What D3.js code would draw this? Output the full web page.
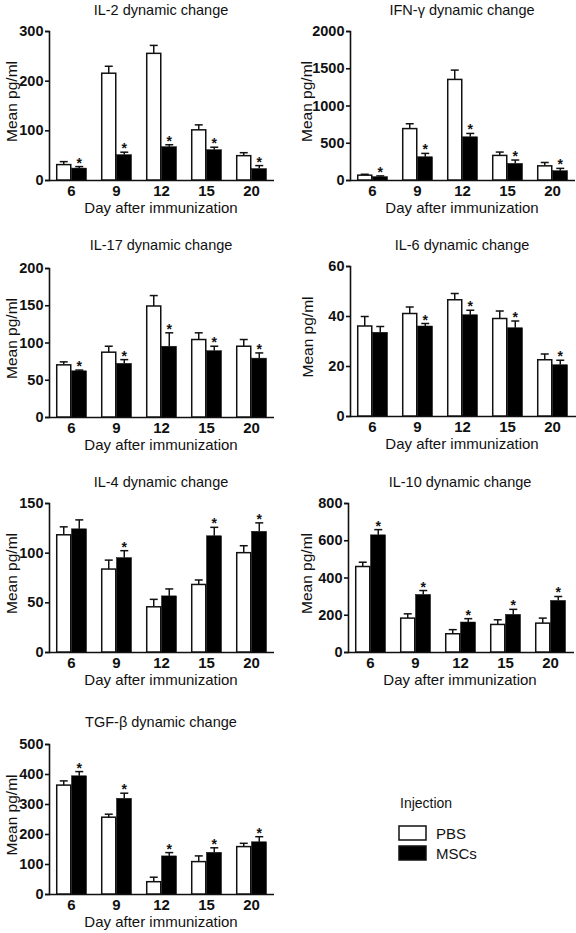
<!DOCTYPE html>
<html><head><meta charset="utf-8">
<script src="https://cdn.jsdelivr.net/npm/d3@7"></script>
<style>
html,body{margin:0;padding:0;background:#fff;}
svg text{font-family:"Liberation Sans",Arial,Helvetica,sans-serif;fill:#111;}
</style></head>
<body>
<svg id="c" width="576" height="933"></svg>
<script>
const days = ["6","9","12","15","20"];

const il2Pbs = [31,215,255,101,49],   il2PbsSd = [6,14,16,10,6];
const il2Msc = [24,51,67,61,23],      il2MscSd = [3,5,4,5,6];
const il2Stars = [1,1,1,1,1];
const il2Ticks = [0,100,200,300];

const ifnPbs = [65,690,1350,330,190], ifnPbsSd = [12,65,125,45,45];
const ifnMsc = [45,312,580,223,125],  ifnMscSd = [10,45,45,45,31];
const ifnStars = [1,1,1,1,1];
const ifnTicks = [0,500,1000,1500,2000];

const il17Pbs = [70,87,149,104,95],   il17PbsSd = [4,8,14,9,9];
const il17Msc = [62,72,95,89,79],     il17MscSd = [1,5,18,6,7];
const il17Stars = [1,1,1,1,1];
const il17Ticks = [0,50,100,150,200];

const il6Pbs = [36,41,46.5,39,22.5],  il6PbsSd = [3.8,2.6,2.5,3,2.3];
const il6Msc = [33.5,36,40.5,35.3,20.5], il6MscSd = [2.3,1,1.8,2.7,1.8];
const il6Stars = [0,1,1,1,1];
const il6Ticks = [0,20,40,60];

const il4Pbs = [118,83.5,45.5,68,100], il4PbsSd = [8,9,7.5,4.5,7];
const il4Msc = [124,95,56.5,117,121.5], il4MscSd = [9,7,7,8.5,8.5];
const il4Stars = [0,1,0,1,1];
const il4Ticks = [0,50,100,150];

const il10Pbs = [459,182,98,148,155], il10PbsSd = [23,23,22,25,27];
const il10Msc = [629,309,161,202,277], il10MscSd = [28,21,18,27,21];
const il10Stars = [1,1,1,1,1];
const il10Ticks = [0,200,400,600,800];

const tgfPbs = [363,256,41,108,158],  tgfPbsSd = [14,10,15,19,11];
const tgfMsc = [394,319,127,139,174], tgfMscSd = [14,17,11,15,17];
const tgfStars = [1,1,1,1,1];
const tgfTicks = [0,100,200,300,400,500];

const groups = ["PBS","MSCs"];
const legendTitle = "Injection";
const xLabel = "Day after immunization";
const yLabel = "Mean pg/ml";

const panels = [
  {title:"IL-2 dynamic change", pbs:il2Pbs, pbsSd:il2PbsSd, msc:il2Msc, mscSd:il2MscSd, stars:il2Stars, ticks:il2Ticks,
   ax:49, xEnd:274, yTop:31, y0:180, tY:15, yl:17},
  {title:"IFN-\u03b3 dynamic change", pbs:ifnPbs, pbsSd:ifnPbsSd, msc:ifnMsc, mscSd:ifnMscSd, stars:ifnStars, ticks:ifnTicks,
   ax:350, xEnd:575, yTop:31, y0:180, tY:15, yl:312},
  {title:"IL-17 dynamic change", pbs:il17Pbs, pbsSd:il17PbsSd, msc:il17Msc, mscSd:il17MscSd, stars:il17Stars, ticks:il17Ticks,
   ax:49, xEnd:274, yTop:268, y0:417, tY:250, yl:17},
  {title:"IL-6 dynamic change", pbs:il6Pbs, pbsSd:il6PbsSd, msc:il6Msc, mscSd:il6MscSd, stars:il6Stars, ticks:il6Ticks,
   ax:350, xEnd:576, yTop:266, y0:416, tY:250, yl:313},
  {title:"IL-4 dynamic change", pbs:il4Pbs, pbsSd:il4PbsSd, msc:il4Msc, mscSd:il4MscSd, stars:il4Stars, ticks:il4Ticks,
   ax:49, xEnd:274, yTop:503, y0:652, tY:487, yl:17},
  {title:"IL-10 dynamic change", pbs:il10Pbs, pbsSd:il10PbsSd, msc:il10Msc, mscSd:il10MscSd, stars:il10Stars, ticks:il10Ticks,
   ax:348, xEnd:574, yTop:503, y0:652, tY:487, yl:312},
  {title:"TGF-\u03b2 dynamic change", pbs:tgfPbs, pbsSd:tgfPbsSd, msc:tgfMsc, mscSd:tgfMscSd, stars:tgfStars, ticks:tgfTicks,
   ax:49, xEnd:274, yTop:744, y0:894, tY:727, yl:17}
];

const svg = d3.select("#c");
const fam = '"Liberation Sans",Arial,Helvetica,sans-serif';

panels.forEach(p => {
  const g = svg.append("g");
  const x = d3.scaleBand().domain(days).range([p.ax, p.ax + 225]).paddingInner(0.31).paddingOuter(0.155);
  const sub = d3.scaleBand().domain(groups).range([0, x.bandwidth()]);
  const y = d3.scaleLinear().domain([0, d3.max(p.ticks)]).range([p.y0, p.yTop]);

  g.append("text").attr("x", p.ax + 112).attr("y", p.tY).attr("text-anchor","middle")
    .style("font-size","14.5px").text(p.title);

  const ya = g.append("g").attr("transform", `translate(${p.ax},0)`)
    .call(d3.axisLeft(y).tickValues(p.ticks).tickSize(4).tickPadding(1.5).tickFormat(d3.format("d")));
  ya.select(".domain").attr("stroke","#111").attr("stroke-width",1.6);
  ya.selectAll(".tick line").attr("stroke","#111").attr("stroke-width",1.6);
  ya.selectAll(".tick text").style("font-size","14.5px").style("font-weight","bold").style("font-family",fam).attr("fill","#111");

  const xa = g.append("g").attr("transform", `translate(0,${p.y0})`)
    .call(d3.axisBottom(x).tickSize(0).tickPadding(5));
  xa.select(".domain").attr("d", `M${p.ax},0.5H${p.xEnd}`).attr("stroke","#111").attr("stroke-width",1.6);
  xa.selectAll(".tick text").style("font-size","15px").style("font-weight","bold").style("font-family",fam).attr("fill","#111");

  g.append("text").attr("x", p.ax + 112).attr("y", p.y0 + 33).attr("text-anchor","middle")
    .style("font-size","15px").text(xLabel);
  g.append("text").attr("transform", `translate(${p.yl},${(p.y0 + p.yTop)/2 - 4}) rotate(-90)`)
    .attr("text-anchor","middle").style("font-size","15.5px").text(yLabel);

  const rows = days.map((d,i) => [
    {day:d, grp:"PBS", v:p.pbs[i], sd:p.pbsSd[i], star:0},
    {day:d, grp:"MSCs", v:p.msc[i], sd:p.mscSd[i], star:p.stars[i]}
  ]).flat();

  const bg = g.append("g");
  bg.selectAll("line.err").data(rows).join("line").attr("class","err")
    .attr("x1", d => x(d.day) + sub(d.grp) + sub.bandwidth()/2)
    .attr("x2", d => x(d.day) + sub(d.grp) + sub.bandwidth()/2)
    .attr("y1", d => y(d.v)).attr("y2", d => y(d.v + d.sd))
    .attr("stroke","#111").attr("stroke-width",1.5);
  bg.selectAll("line.cap").data(rows).join("line").attr("class","cap")
    .attr("x1", d => x(d.day) + sub(d.grp) + sub.bandwidth()/2 - 4)
    .attr("x2", d => x(d.day) + sub(d.grp) + sub.bandwidth()/2 + 4)
    .attr("y1", d => y(d.v + d.sd)).attr("y2", d => y(d.v + d.sd))
    .attr("stroke","#111").attr("stroke-width",1.5);
  bg.selectAll("rect").data(rows).join("rect")
    .attr("x", d => x(d.day) + sub(d.grp) + (d.grp==="PBS" ? 0.75 : 0))
    .attr("width", d => sub.bandwidth() - (d.grp==="PBS" ? 1.5 : 0.5))
    .attr("y", d => y(d.v))
    .attr("height", d => p.y0 - y(d.v))
    .attr("fill", d => d.grp==="PBS" ? "#fff" : "#000")
    .attr("stroke", "#111").attr("stroke-width", d => d.grp==="PBS" ? 1.5 : 0.5);
  bg.selectAll("text.star").data(rows.filter(d => d.star)).join("text").attr("class","star")
    .attr("x", d => x(d.day) + sub(d.grp) + sub.bandwidth()/2)
    .attr("y", d => y(d.v + d.sd) + 1)
    .attr("text-anchor","middle").style("font-size","14px").style("font-weight","bold").text("*");
});

const lg = svg.append("g");
lg.append("text").attr("x", 400).attr("y", 808).style("font-size","14px").text(legendTitle);
const ly = d3.scaleBand().domain(groups).range([820, 866]).padding(0.3);
lg.selectAll("rect").data(groups).join("rect")
  .attr("x", 399).attr("width", 27)
  .attr("y", d => ly(d)).attr("height", ly.bandwidth())
  .attr("fill", d => d==="PBS" ? "#fff" : "#000")
  .attr("stroke","#111").attr("stroke-width",1.5);
lg.selectAll("text.it").data(groups).join("text").attr("class","it")
  .attr("x", 436).attr("y", d => ly(d) + ly.bandwidth()/2 + 5.5)
  .style("font-size","15px").text(d => d);
</script>
</body></html>
